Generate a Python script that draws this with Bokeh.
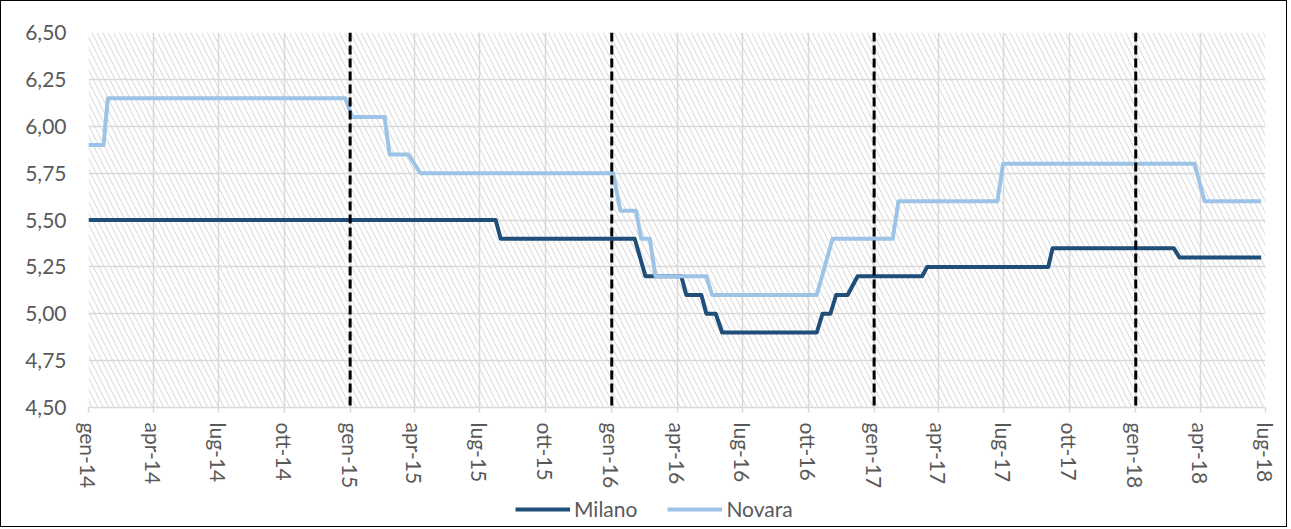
import pandas as pd
from bokeh.plotting import figure
from bokeh.layouts import column
from bokeh.models import (Range1d, FixedTicker, Span, BoxAnnotation, Legend, LegendItem,
                          ColumnDataSource)
from bokeh.embed import file_html
from bokeh.resources import INLINE

# ---- data (vertices of the weekly price lines) ----
milano_dates = ["2014-01-01", "2015-07-23", "2015-07-30", "2016-02-02", "2016-02-17",
                "2016-04-07", "2016-04-14", "2016-05-05", "2016-05-12", "2016-05-25",
                "2016-06-03", "2016-10-13", "2016-10-21", "2016-11-01", "2016-11-09",
                "2016-11-25", "2016-12-09", "2017-03-09", "2017-03-16", "2017-09-01",
                "2017-09-07", "2018-02-23", "2018-03-03", "2018-06-25"]
milano_vals = [5.50, 5.50, 5.40, 5.40, 5.20,
               5.20, 5.10, 5.10, 5.00, 5.00,
               4.90, 4.90, 5.00, 5.00, 5.10,
               5.10, 5.20, 5.20, 5.25, 5.25,
               5.35, 5.35, 5.30, 5.30]

novara_dates = ["2014-01-01", "2014-01-22", "2014-01-28", "2014-12-25", "2015-01-04",
                "2015-02-18", "2015-02-25", "2015-03-23", "2015-04-09", "2016-01-03",
                "2016-01-13", "2016-02-04", "2016-02-11", "2016-02-23", "2016-03-02",
                "2016-05-12", "2016-05-20", "2016-10-13", "2016-11-04", "2017-01-27",
                "2017-02-04", "2017-06-22", "2017-06-30", "2018-03-24", "2018-04-07",
                "2018-06-25"]
novara_vals = [5.90, 5.90, 6.15, 6.15, 6.05,
               6.05, 5.85, 5.85, 5.75, 5.75,
               5.55, 5.55, 5.40, 5.40, 5.20,
               5.20, 5.10, 5.10, 5.40, 5.40,
               5.60, 5.60, 5.80, 5.80, 5.60,
               5.60]

x_tick_dates = ["2014-01-01", "2014-04-01", "2014-07-01", "2014-10-01",
                "2015-01-01", "2015-04-01", "2015-07-01", "2015-10-01",
                "2016-01-01", "2016-04-01", "2016-07-01", "2016-10-01",
                "2017-01-01", "2017-04-01", "2017-07-01", "2017-10-01",
                "2018-01-01", "2018-04-01", "2018-07-01"]
x_tick_labels = ["gen-14", "apr-14", "lug-14", "ott-14",
                 "gen-15", "apr-15", "lug-15", "ott-15",
                 "gen-16", "apr-16", "lug-16", "ott-16",
                 "gen-17", "apr-17", "lug-17", "ott-17",
                 "gen-18", "apr-18", "lug-18"]
y_ticks = [4.50, 4.75, 5.00, 5.25, 5.50, 5.75, 6.00, 6.25, 6.50]
y_tick_labels = ["4,50", "4,75", "5,00", "5,25", "5,50", "5,75", "6,00", "6,25", "6,50"]
vline_dates = ["2015-01-01", "2016-01-01", "2017-01-01", "2018-01-01"]

series_names = ["Milano", "Novara"]
series_colors = ["#1F4E79", "#9DC3E6"]


def ms(d):
    return pd.Timestamp(d).value / 1e6


FONT = "Lato"
TXT = "#595959"
FS = "21px"

p = figure(width=1285, height=492, x_axis_type="datetime",
           output_backend="svg", toolbar_location=None,
           x_range=Range1d(ms(x_tick_dates[0]), ms(x_tick_dates[-1])),
           y_range=Range1d(y_ticks[0], y_ticks[-1]),
           min_border_left=87, min_border_right=21,
           min_border_top=31, min_border_bottom=86)
p.outline_line_color = None
p.background_fill_color = "white"
p.border_fill_color = "white"

# hatched plot area
p.add_layout(BoxAnnotation(fill_alpha=0, line_color=None,
                           hatch_pattern="\\", hatch_color="#d6d6d6",
                           hatch_weight=1, hatch_scale=11, level="underlay"))

# axes
xticks = [ms(d) for d in x_tick_dates]
p.xaxis.ticker = FixedTicker(ticks=xticks)
p.xaxis.major_label_overrides = {t: l for t, l in zip(xticks, x_tick_labels)}
p.xaxis.major_label_orientation = "vertical"
p.xaxis.axis_line_color = "#d9d9d9"
p.xaxis.axis_line_width = 1.5
p.xaxis.major_tick_line_color = "#d9d9d9"
p.xaxis.major_tick_line_width = 1.5
p.xaxis.major_tick_out = 5
p.xaxis.major_tick_in = 0
p.xaxis.minor_tick_line_color = None
p.xaxis.major_label_standoff = 10

p.yaxis.ticker = FixedTicker(ticks=y_ticks)
p.yaxis.major_label_overrides = {t: l for t, l in zip(y_ticks, y_tick_labels)}
p.yaxis.axis_line_color = None
p.yaxis.major_tick_line_color = None
p.yaxis.minor_tick_line_color = None
p.yaxis.major_tick_out = 0
p.yaxis.major_tick_in = 0
p.yaxis.major_label_standoff = 22

for ax in (p.xaxis, p.yaxis):
    ax.major_label_text_font = FONT
    ax.major_label_text_font_size = FS
    ax.major_label_text_color = TXT

p.xgrid.ticker = FixedTicker(ticks=xticks)
p.ygrid.ticker = FixedTicker(ticks=y_ticks)
p.grid.grid_line_color = "#d9d9d9"
p.grid.grid_line_width = 1.5

# dashed year separators
for d in vline_dates:
    p.add_layout(Span(location=ms(d), dimension="height", line_color="black",
                      line_width=3, line_dash="9 4", level="glyph"))

# legend strip (separate small figure below the chart)
lg = figure(width=1285, height=33, output_backend="svg", toolbar_location=None,
            x_range=Range1d(0, 1), y_range=Range1d(0, 1),
            min_border=0, min_border_left=0, min_border_right=0,
            min_border_top=0, min_border_bottom=0)
lg.axis.visible = False
lg.grid.visible = False
lg.outline_line_color = None
lg.background_fill_color = "white"
lg.border_fill_color = "white"

items = []
for name, dates, vals, col in [(series_names[0], milano_dates, milano_vals, series_colors[0]),
                               (series_names[1], novara_dates, novara_vals, series_colors[1])]:
    src = ColumnDataSource(dict(x=pd.to_datetime(dates), y=vals))
    p.line("x", "y", source=src, line_color=col, line_width=4, line_join="round")
    # off-range proxy line: only its legend swatch is visible
    proxy = lg.line(x=[5, 6], y=[5, 6], line_color=col, line_width=4)
    items.append(LegendItem(label=name, renderers=[proxy]))

legend = Legend(items=items, orientation="horizontal", location=(427, 5),
                glyph_width=55, glyph_height=20, label_standoff=4, spacing=30,
                padding=0, margin=0, border_line_color=None, background_fill_alpha=0,
                label_text_font=FONT, label_text_font_size=FS,
                label_text_color=TXT)
lg.add_layout(legend)

layout = column(p, lg, spacing=0)
layout.styles = {"border": "1.5px solid #000000"}

open("out.html", "w").write(file_html(layout, INLINE))
